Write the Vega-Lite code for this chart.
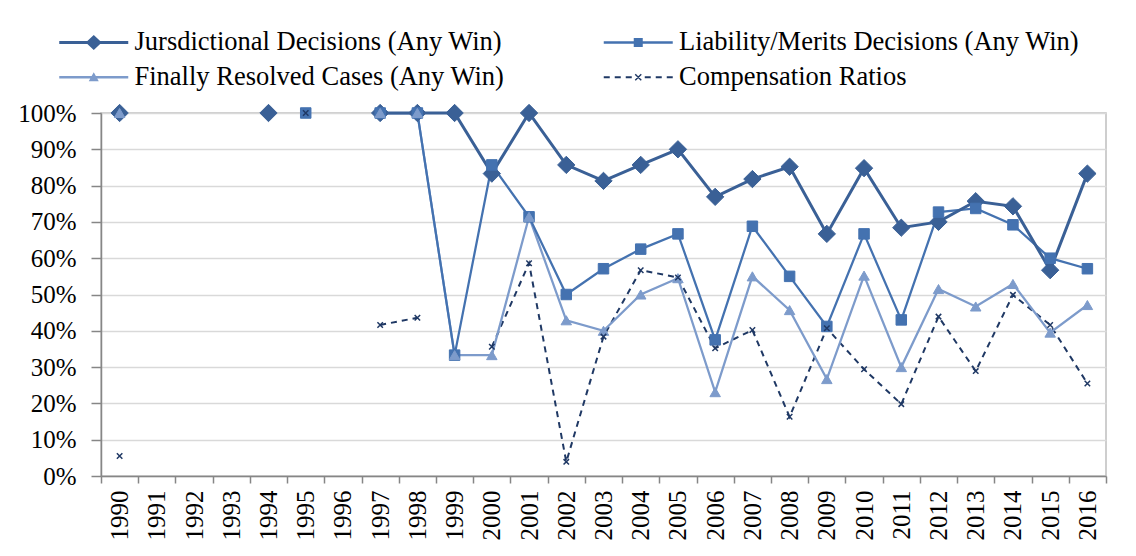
{
  "$schema": "https://vega.github.io/schema/vega-lite/v6.json",
  "width": 1005,
  "height": 363,
  "autosize": {"type": "none"},
  "padding": {"left": 101, "top": 113, "right": 30, "bottom": 80},
  "background": "white",
  "data": {
    "values": [
      {"y": "1990", "s": "Jursdictional Decisions (Any Win)", "v": 1},
      {"y": "1991", "s": "Jursdictional Decisions (Any Win)", "v": null},
      {"y": "1994", "s": "Jursdictional Decisions (Any Win)", "v": 1},
      {"y": "1995", "s": "Jursdictional Decisions (Any Win)", "v": null},
      {"y": "1997", "s": "Jursdictional Decisions (Any Win)", "v": 1},
      {"y": "1998", "s": "Jursdictional Decisions (Any Win)", "v": 1},
      {"y": "1999", "s": "Jursdictional Decisions (Any Win)", "v": 1},
      {"y": "2000", "s": "Jursdictional Decisions (Any Win)", "v": 0.833},
      {"y": "2001", "s": "Jursdictional Decisions (Any Win)", "v": 1},
      {"y": "2002", "s": "Jursdictional Decisions (Any Win)", "v": 0.857},
      {"y": "2003", "s": "Jursdictional Decisions (Any Win)", "v": 0.813},
      {"y": "2004", "s": "Jursdictional Decisions (Any Win)", "v": 0.857},
      {"y": "2005", "s": "Jursdictional Decisions (Any Win)", "v": 0.9},
      {"y": "2006", "s": "Jursdictional Decisions (Any Win)", "v": 0.769},
      {"y": "2007", "s": "Jursdictional Decisions (Any Win)", "v": 0.818},
      {"y": "2008", "s": "Jursdictional Decisions (Any Win)", "v": 0.852},
      {"y": "2009", "s": "Jursdictional Decisions (Any Win)", "v": 0.667},
      {"y": "2010", "s": "Jursdictional Decisions (Any Win)", "v": 0.848},
      {"y": "2011", "s": "Jursdictional Decisions (Any Win)", "v": 0.684},
      {"y": "2012", "s": "Jursdictional Decisions (Any Win)", "v": 0.7},
      {"y": "2013", "s": "Jursdictional Decisions (Any Win)", "v": 0.757},
      {"y": "2014", "s": "Jursdictional Decisions (Any Win)", "v": 0.743},
      {"y": "2015", "s": "Jursdictional Decisions (Any Win)", "v": 0.567},
      {"y": "2016", "s": "Jursdictional Decisions (Any Win)", "v": 0.833},

      {"y": "1995", "s": "Liability/Merits Decisions (Any Win)", "v": 1},
      {"y": "1996", "s": "Liability/Merits Decisions (Any Win)", "v": null},
      {"y": "1997", "s": "Liability/Merits Decisions (Any Win)", "v": 1},
      {"y": "1998", "s": "Liability/Merits Decisions (Any Win)", "v": 1},
      {"y": "1999", "s": "Liability/Merits Decisions (Any Win)", "v": 0.333},
      {"y": "2000", "s": "Liability/Merits Decisions (Any Win)", "v": 0.857},
      {"y": "2001", "s": "Liability/Merits Decisions (Any Win)", "v": 0.714},
      {"y": "2002", "s": "Liability/Merits Decisions (Any Win)", "v": 0.5},
      {"y": "2003", "s": "Liability/Merits Decisions (Any Win)", "v": 0.571},
      {"y": "2004", "s": "Liability/Merits Decisions (Any Win)", "v": 0.625},
      {"y": "2005", "s": "Liability/Merits Decisions (Any Win)", "v": 0.667},
      {"y": "2006", "s": "Liability/Merits Decisions (Any Win)", "v": 0.375},
      {"y": "2007", "s": "Liability/Merits Decisions (Any Win)", "v": 0.688},
      {"y": "2008", "s": "Liability/Merits Decisions (Any Win)", "v": 0.55},
      {"y": "2009", "s": "Liability/Merits Decisions (Any Win)", "v": 0.412},
      {"y": "2010", "s": "Liability/Merits Decisions (Any Win)", "v": 0.667},
      {"y": "2011", "s": "Liability/Merits Decisions (Any Win)", "v": 0.43},
      {"y": "2012", "s": "Liability/Merits Decisions (Any Win)", "v": 0.727},
      {"y": "2013", "s": "Liability/Merits Decisions (Any Win)", "v": 0.737},
      {"y": "2014", "s": "Liability/Merits Decisions (Any Win)", "v": 0.692},
      {"y": "2015", "s": "Liability/Merits Decisions (Any Win)", "v": 0.6},
      {"y": "2016", "s": "Liability/Merits Decisions (Any Win)", "v": 0.571},

      {"y": "1990", "s": "Finally Resolved Cases (Any Win)", "v": 1},
      {"y": "1991", "s": "Finally Resolved Cases (Any Win)", "v": null},
      {"y": "1997", "s": "Finally Resolved Cases (Any Win)", "v": 1},
      {"y": "1998", "s": "Finally Resolved Cases (Any Win)", "v": 1},
      {"y": "1999", "s": "Finally Resolved Cases (Any Win)", "v": 0.333},
      {"y": "2000", "s": "Finally Resolved Cases (Any Win)", "v": 0.333},
      {"y": "2001", "s": "Finally Resolved Cases (Any Win)", "v": 0.714},
      {"y": "2002", "s": "Finally Resolved Cases (Any Win)", "v": 0.429},
      {"y": "2003", "s": "Finally Resolved Cases (Any Win)", "v": 0.4},
      {"y": "2004", "s": "Finally Resolved Cases (Any Win)", "v": 0.5},
      {"y": "2005", "s": "Finally Resolved Cases (Any Win)", "v": 0.545},
      {"y": "2006", "s": "Finally Resolved Cases (Any Win)", "v": 0.231},
      {"y": "2007", "s": "Finally Resolved Cases (Any Win)", "v": 0.55},
      {"y": "2008", "s": "Finally Resolved Cases (Any Win)", "v": 0.457},
      {"y": "2009", "s": "Finally Resolved Cases (Any Win)", "v": 0.267},
      {"y": "2010", "s": "Finally Resolved Cases (Any Win)", "v": 0.552},
      {"y": "2011", "s": "Finally Resolved Cases (Any Win)", "v": 0.3},
      {"y": "2012", "s": "Finally Resolved Cases (Any Win)", "v": 0.515},
      {"y": "2013", "s": "Finally Resolved Cases (Any Win)", "v": 0.467},
      {"y": "2014", "s": "Finally Resolved Cases (Any Win)", "v": 0.529},
      {"y": "2015", "s": "Finally Resolved Cases (Any Win)", "v": 0.395},
      {"y": "2016", "s": "Finally Resolved Cases (Any Win)", "v": 0.471},

      {"y": "1990", "s": "Compensation Ratios", "v": 0.055},
      {"y": "1991", "s": "Compensation Ratios", "v": null},
      {"y": "1995", "s": "Compensation Ratios", "v": 1},
      {"y": "1996", "s": "Compensation Ratios", "v": null},
      {"y": "1997", "s": "Compensation Ratios", "v": 0.416},
      {"y": "1998", "s": "Compensation Ratios", "v": 0.436},
      {"y": "1999", "s": "Compensation Ratios", "v": null},
      {"y": "2000", "s": "Compensation Ratios", "v": 0.356},
      {"y": "2001", "s": "Compensation Ratios", "v": 0.586},
      {"y": "2002", "s": "Compensation Ratios", "v": 0.039},
      {"y": "2003", "s": "Compensation Ratios", "v": 0.384},
      {"y": "2004", "s": "Compensation Ratios", "v": 0.567},
      {"y": "2005", "s": "Compensation Ratios", "v": 0.547},
      {"y": "2006", "s": "Compensation Ratios", "v": 0.352},
      {"y": "2007", "s": "Compensation Ratios", "v": 0.402},
      {"y": "2008", "s": "Compensation Ratios", "v": 0.163},
      {"y": "2009", "s": "Compensation Ratios", "v": 0.407},
      {"y": "2010", "s": "Compensation Ratios", "v": 0.294},
      {"y": "2011", "s": "Compensation Ratios", "v": 0.198},
      {"y": "2012", "s": "Compensation Ratios", "v": 0.439},
      {"y": "2013", "s": "Compensation Ratios", "v": 0.289},
      {"y": "2014", "s": "Compensation Ratios", "v": 0.499},
      {"y": "2015", "s": "Compensation Ratios", "v": 0.416},
      {"y": "2016", "s": "Compensation Ratios", "v": 0.255}
    ]
  },
  "encoding": {
    "x": {
      "field": "y", "type": "ordinal",
      "bandPosition": 0.5,
      "scale": {"type": "band", "paddingInner": 0, "paddingOuter": 0,
        "domain": ["1990","1991","1992","1993","1994","1995","1996","1997","1998","1999","2000","2001","2002","2003","2004","2005","2006","2007","2008","2009","2010","2011","2012","2013","2014","2015","2016"]},
      "axis": {"title": null, "tickBand": "extent", "labelAngle": -90, "labelAlign": "right", "labelBaseline": "middle", "tickSize": 7, "labelPadding": 7, "grid": false}
    },
    "y": {
      "field": "v", "type": "quantitative",
      "scale": {"domain": [0, 1], "nice": false, "zero": true},
      "axis": {"title": null, "format": ".0%", "values": [0,0.1,0.2,0.3,0.4,0.5,0.6,0.7,0.8,0.9,1], "grid": true, "tickSize": 10, "labelPadding": 15}
    }
  },
  "layer": [
    {"transform": [{"filter": "datum.s == 'Compensation Ratios'"}],
     "mark": {"type": "line", "invalid": "break-paths-show-domains", "stroke": "#1F3864", "strokeWidth": 2, "strokeDash": [6, 5]}},
    {"transform": [{"filter": "datum.s == 'Finally Resolved Cases (Any Win)'"}],
     "mark": {"type": "line", "invalid": "break-paths-show-domains", "stroke": "#7D9BCB", "strokeWidth": 2.25}},
    {"transform": [{"filter": "datum.s == 'Liability/Merits Decisions (Any Win)'"}],
     "mark": {"type": "line", "invalid": "break-paths-show-domains", "stroke": "#4472B0", "strokeWidth": 2.25}},
    {"transform": [{"filter": "datum.s == 'Jursdictional Decisions (Any Win)'"}],
     "mark": {"type": "line", "invalid": "break-paths-show-domains", "stroke": "#3A6096", "strokeWidth": 3}},
    {"transform": [{"filter": "datum.s == 'Jursdictional Decisions (Any Win)' && datum.v != null"}],
     "mark": {"type": "point", "shape": "diamond", "size": 300, "filled": true, "opacity": 1, "fill": "#3A6096", "stroke": "#3A6096", "strokeWidth": 1}},
    {"transform": [{"filter": "datum.s == 'Liability/Merits Decisions (Any Win)' && datum.v != null"}],
     "mark": {"type": "point", "shape": "square", "size": 110, "filled": true, "opacity": 1, "fill": "#4472B0", "stroke": "#4472B0", "strokeWidth": 1}},
    {"transform": [{"filter": "datum.s == 'Finally Resolved Cases (Any Win)' && datum.v != null"}],
     "mark": {"type": "point", "shape": "triangle-up", "size": 110, "filled": true, "opacity": 1, "fill": "#7D9BCB", "stroke": "#7D9BCB", "strokeWidth": 1}},
    {"transform": [{"filter": "datum.s == 'Compensation Ratios' && datum.v != null"}],
     "mark": {"type": "point", "shape": "M-1,-1L1,1M-1,1L1,-1", "size": 30, "filled": false, "opacity": 1, "stroke": "#1F3864", "strokeWidth": 1.5}},
    {"transform": [{"filter": "datum.v > 5"}],
     "mark": {"type": "point", "filled": true, "opacity": 1},
     "encoding": {
       "shape": {"field": "s", "type": "nominal", "title": null,
         "scale": {"domain": ["Jursdictional Decisions (Any Win)", "Liability/Merits Decisions (Any Win)", "Finally Resolved Cases (Any Win)", "Compensation Ratios"],
           "range": [
             "M-6.9,-0.3H6.9V0.3H-6.9Z M0,-1.5L1.6,0L0,1.5L-1.6,0Z",
             "M-6.9,-0.25H6.9V0.25H-6.9Z M-0.9,-0.9H0.9V0.9H-0.9Z",
             "M-6.9,-0.25H6.9V0.25H-6.9Z M0,-1L1,0.8H-1Z",
             "M-6.9,-0.2H-5.7V0.2H-6.9Z M-4.7,-0.2H-3.5V0.2H-4.7Z M-2.5,-0.2H-1.3V0.2H-2.5Z M1.3,-0.2H2.5V0.2H1.3Z M3.5,-0.2H4.7V0.2H3.5Z M5.7,-0.2H6.9V0.2H5.7Z M-0.7,-0.5L-0.5,-0.7L0.7,0.5L0.5,0.7Z M0.5,-0.7L0.7,-0.5L-0.5,0.7L-0.7,0.5Z"
           ]}},
       "color": {"field": "s", "type": "nominal", "title": null,
         "scale": {"domain": ["Jursdictional Decisions (Any Win)", "Liability/Merits Decisions (Any Win)", "Finally Resolved Cases (Any Win)", "Compensation Ratios"],
           "range": ["#3A6096", "#4472B0", "#7D9BCB", "#1F3864"]}}
     }}
  ],
  "config": {
    "view": {"stroke": "#BFBFBF", "strokeWidth": 1.5},
    "axis": {
      "labelFont": "Liberation Serif", "labelFontSize": 25, "labelColor": "#000000",
      "domainColor": "#868686", "domainWidth": 1.5, "tickColor": "#868686", "tickWidth": 1.5,
      "gridColor": "#D9D9D9", "gridWidth": 1.5
    },
    "legend": {
      "orient": "none", "legendX": -20.5, "legendY": -84, "columns": 2, "direction": "horizontal",
      "symbolSize": 100, "symbolStrokeWidth": 0, "symbolOpacity": 1,
      "labelFont": "Liberation Serif", "labelFontSize": 26.5, "labelColor": "#000000", "labelLimit": 0,
      "labelOffset": 27.5, "columnPadding": 98.5, "rowPadding": 8
    }
  }
}
